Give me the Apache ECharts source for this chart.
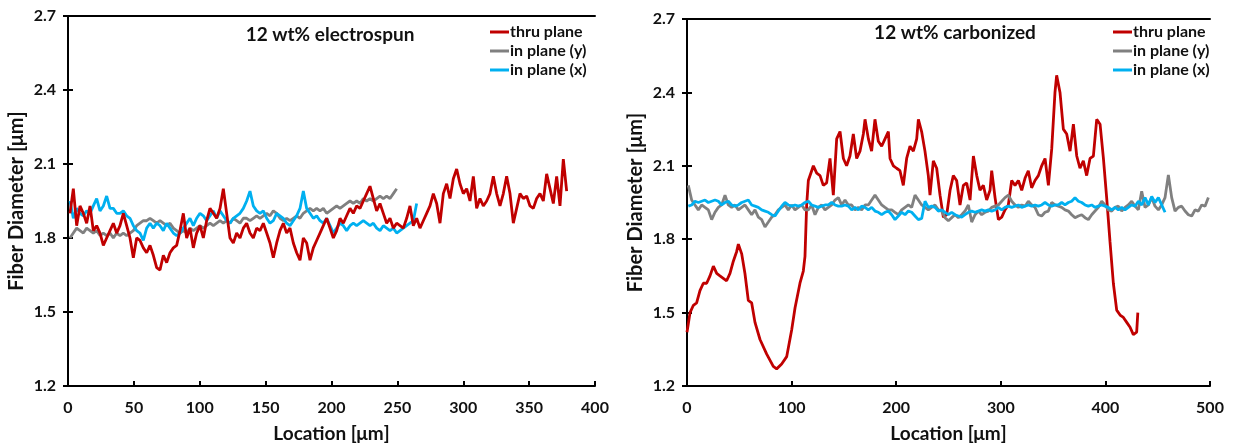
<!DOCTYPE html>
<html><head><meta charset="utf-8">
<script src="https://cdn.jsdelivr.net/npm/echarts@6/dist/echarts.min.js"></script>
<style>html,body{margin:0;padding:0;background:#fff}#c{width:1234px;height:448px}</style>
</head><body><div id="c"></div>
<script>
// ---------- Left panel: 12 wt% electrospun (sampled every ~2.53 µm from 1.52 µm) ----------
const L_START = 1.52, L_STEP = 2.53;
const leftThru = [1.90,2.00,1.85,1.93,1.90,1.86,1.93,1.83,1.85,1.82,1.77,1.80,1.83,1.86,1.82,1.85,1.90,1.85,1.80,1.72,
1.80,1.79,1.76,1.74,1.77,1.73,1.68,1.67,1.73,1.70,1.74,1.76,1.77,1.83,1.90,1.80,1.84,1.76,1.82,1.85,
1.80,1.87,1.92,1.90,1.88,1.92,2.00,1.90,1.80,1.78,1.82,1.80,1.84,1.86,1.82,1.80,1.84,1.83,1.86,1.82,
1.78,1.72,1.78,1.83,1.86,1.82,1.84,1.78,1.74,1.71,1.80,1.78,1.71,1.76,1.79,1.82,1.85,1.88,1.84,1.80,
1.83,1.88,1.86,1.89,1.92,1.90,1.93,1.92,1.95,1.98,2.01,1.96,1.91,1.94,1.90,1.86,1.88,1.84,1.86,1.85,
1.84,1.88,1.93,1.85,1.88,1.84,1.87,1.90,1.93,1.98,1.94,1.86,1.98,2.02,1.96,2.04,2.08,2.02,1.98,2.00,
1.95,2.05,1.92,1.96,1.93,1.95,1.98,2.05,1.98,1.93,1.98,2.05,1.98,1.86,1.92,1.98,1.96,1.97,1.93,1.92,
1.96,1.98,1.95,2.06,2.00,1.94,2.05,1.93,2.12,1.99];
const leftInY = [1.80,1.82,1.84,1.83,1.82,1.84,1.83,1.82,1.83,1.81,1.82,1.81,1.82,1.80,1.82,1.81,1.82,1.81,1.82,1.83,
1.85,1.86,1.87,1.87,1.88,1.87,1.86,1.87,1.86,1.85,1.86,1.84,1.83,1.82,1.83,1.82,1.84,1.83,1.84,1.85,
1.84,1.85,1.86,1.85,1.86,1.87,1.86,1.87,1.86,1.88,1.87,1.86,1.88,1.88,1.87,1.88,1.89,1.88,1.89,1.90,
1.89,1.91,1.90,1.88,1.87,1.88,1.87,1.88,1.89,1.88,1.90,1.91,1.92,1.91,1.92,1.91,1.92,1.90,1.91,1.92,
1.93,1.92,1.93,1.94,1.95,1.94,1.95,1.94,1.96,1.95,1.96,1.95,1.96,1.97,1.96,1.97,1.96,1.98,2.00];
const leftInX = [1.95,1.88,1.92,1.90,1.89,1.91,1.90,1.93,1.96,1.91,1.93,1.97,1.92,1.92,1.90,1.90,1.91,1.89,1.88,1.85,
1.83,1.82,1.79,1.84,1.86,1.84,1.86,1.85,1.83,1.86,1.84,1.82,1.81,1.82,1.84,1.86,1.88,1.85,1.88,1.90,
1.89,1.87,1.89,1.91,1.88,1.91,1.89,1.87,1.86,1.88,1.89,1.90,1.92,1.95,1.99,1.93,1.91,1.90,1.91,1.88,
1.86,1.87,1.90,1.89,1.88,1.86,1.85,1.87,1.89,1.92,1.99,1.92,1.90,1.88,1.89,1.87,1.86,1.88,1.85,1.82,
1.84,1.86,1.85,1.83,1.85,1.86,1.85,1.86,1.87,1.86,1.85,1.86,1.84,1.83,1.85,1.84,1.83,1.84,1.82,1.83,
1.84,1.85,1.86,1.87,1.94];

// ---------- Right panel: 12 wt% carbonized ----------
const rightThruX = [0,2.9,6.1,9.2,12.4,15.6,18.8,22.0,25.2,28.4,31.5,34.7,37.9,41.1,44.3,47.5,49.1,52.3,55.4,58.6,
61.8,65.0,69.8,76.2,82.5,85.7,90.5,95.3,100.1,103.3,108.0,111.2,112.8,114.4,116.0,119.2,120.8,124.0,127.2,130.3,
133.5,136.7,139.9,143.1,146.3,149.5,152.6,155.8,159.0,162.2,165.4,168.6,170.2,173.4,176.5,179.7,182.9,186.1,189.3,192.5,
194.1,197.3,200.4,203.6,206.8,210.0,213.2,216.4,219.6,221.2,224.3,227.5,230.7,232.3,235.5,238.7,241.9,245.1,248.3,251.5,
254.6,257.8,261.0,264.2,267.4,270.6,273.8,277.0,280.1,283.3,286.5,289.7,291.3,294.5,297.7,300.9,304.0,307.2,310.4,313.6,
316.8,320.0,323.2,326.3,329.5,332.7,335.9,339.1,342.3,345.5,348.7,351.8,353.4,356.6,359.8,363.0,366.2,369.4,372.6,375.7,
378.9,382.1,385.3,388.5,391.7,394.9,398.1,401.2,404.4,407.6,410.8,414.0,417.2,420.4,423.6,426.7,429.9,431.0];
const rightThruY = [1.42,1.50,1.53,1.54,1.59,1.62,1.62,1.65,1.69,1.66,1.65,1.64,1.63,1.66,1.71,1.75,1.78,1.74,1.66,1.55,
1.54,1.46,1.39,1.33,1.28,1.27,1.29,1.32,1.43,1.52,1.62,1.67,1.73,1.94,2.04,2.08,2.10,2.07,2.06,2.02,
2.03,2.13,1.98,2.21,2.24,2.13,2.10,2.14,2.23,2.13,2.16,2.23,2.29,2.21,2.16,2.29,2.20,2.18,2.21,2.24,
2.13,2.10,2.09,2.08,2.02,2.13,2.18,2.16,2.21,2.29,2.24,2.16,2.06,1.98,2.12,2.09,1.98,1.89,1.90,2.00,
2.06,2.04,1.94,2.02,2.03,1.96,2.14,2.06,2.00,2.02,1.96,2.00,2.08,1.97,1.88,1.89,1.92,1.94,2.04,2.02,
2.04,2.00,2.05,2.08,2.01,2.04,2.06,2.10,2.13,2.02,2.17,2.40,2.47,2.40,2.25,2.23,2.16,2.27,2.14,2.09,
2.12,2.06,2.13,2.14,2.29,2.27,2.13,1.97,1.79,1.62,1.51,1.49,1.48,1.46,1.44,1.41,1.42,1.50];
// in-plane series sampled every ~3.19 µm from 1.27 µm
const R_START = 1.27, R_STEP = 3.187;
const rightInY = [2.02,1.96,1.94,1.92,1.94,1.93,1.92,1.88,1.91,1.93,1.94,1.98,1.94,1.93,1.94,1.92,1.93,1.94,1.92,1.90,
1.92,1.89,1.88,1.85,1.87,1.89,1.90,1.92,1.93,1.94,1.92,1.94,1.92,1.93,1.94,1.92,1.92,1.94,1.90,1.93,
1.94,1.92,1.93,1.94,1.96,1.97,1.94,1.96,1.94,1.94,1.92,1.93,1.92,1.94,1.94,1.96,1.98,1.96,1.94,1.93,
1.92,1.92,1.91,1.90,1.92,1.93,1.94,1.93,1.98,1.96,1.94,1.93,1.92,1.93,1.94,1.92,
1.915,1.888,1.875,1.888,1.90,1.888,1.90,1.915,1.94,1.87,1.90,1.915,1.90,1.91,1.915,1.93,1.935,1.94,1.955,1.97,
1.98,1.955,1.94,1.93,1.94,1.935,1.955,1.94,1.93,1.90,1.895,1.91,1.915,1.95,1.94,1.935,1.93,1.92,1.915,1.90,
1.888,1.895,1.90,1.888,1.88,1.90,1.915,1.93,1.955,1.94,1.92,1.915,1.93,1.935,1.915,1.93,1.94,1.955,1.935,1.92,
1.996,1.93,1.94,1.97,1.935,1.92,1.94,1.97,2.063,1.97,1.915,1.93,1.935,1.915,1.90,1.895,1.92,1.915,1.94,1.935,1.97];
const rightInX = [1.935,1.94,1.955,1.95,1.955,1.96,1.95,1.955,1.96,1.955,1.94,1.95,1.955,1.94,1.935,1.94,1.95,1.955,1.96,1.94,
1.935,1.93,1.92,1.915,1.91,1.90,1.895,1.915,1.935,1.95,1.94,1.935,1.94,1.935,1.94,1.95,1.955,1.94,1.935,1.93,
1.935,1.94,1.94,1.95,1.94,1.935,1.935,1.94,1.935,1.92,1.93,1.92,1.935,1.93,1.92,1.93,1.915,1.91,1.90,1.91,
1.915,1.90,1.88,1.895,1.91,1.90,1.915,1.91,1.895,1.88,1.885,1.955,1.93,1.935,1.93,1.915,
1.92,1.91,1.90,1.91,1.90,1.895,1.89,1.90,1.91,1.915,1.91,1.915,1.92,1.915,1.92,1.915,1.92,1.93,1.92,1.93,
1.935,1.93,1.935,1.94,1.93,1.935,1.94,1.935,1.94,1.935,1.94,1.95,1.94,1.935,1.94,1.94,1.95,1.94,1.95,1.955,
1.97,1.955,1.95,1.94,1.935,1.94,1.93,1.935,1.94,1.935,1.93,1.92,1.93,1.92,1.93,1.92,1.93,1.94,1.935,1.955,
1.94,1.97,1.94,1.975,1.95,1.97,1.94,1.91];

const SERIES_NAMES = ['thru plane', 'in plane (y)', 'in plane (x)'];
const COLORS = ['#C00000', '#808080', '#00B0F0'];
const TITLES = ['12 wt% electrospun', '12 wt% carbonized'];
const X_NAME = 'Location [μm]', Y_NAME = 'Fiber Diameter [μm]';

function sampled(start, step, ys) { return ys.map((y, i) => [+(start + step * i).toFixed(2), y]); }
function paired(xs, ys) { return xs.map((x, i) => [x, ys[i]]); }

const FONT = 'Lato, "Open Sans", sans-serif';
const lbl = { color: '#111', fontWeight: 'bold', fontSize: 16, fontFamily: FONT };
const axLine = { show: true, lineStyle: { color: '#000', width: 2 } };

function xAxes(gi, max, interval) {
  return [
    { gridIndex: gi, type: 'value', position: 'bottom', min: 0, max: max, interval: interval,
      axisLine: axLine, axisTick: { inside: true, length: 5, lineStyle: { color: '#000', width: 2 } },
      axisLabel: Object.assign({ margin: 14 }, lbl), splitLine: { show: false },
      name: X_NAME, nameLocation: 'middle', nameGap: 38,
      nameTextStyle: { color: '#111', fontWeight: 'bold', fontSize: 19, fontFamily: FONT } },
    { gridIndex: gi, type: 'value', position: 'top', min: 0, max: max, interval: interval,
      axisLine: axLine, axisTick: { show: false }, axisLabel: { show: false }, splitLine: { show: false } }
  ];
}
function yAxes(gi) {
  return [
    { gridIndex: gi, type: 'value', position: 'left', min: 1.2, max: 2.7, interval: 0.3,
      axisLine: axLine, axisTick: { inside: true, length: 5, lineStyle: { color: '#000', width: 2 } },
      axisLabel: Object.assign({ margin: 12, formatter: v => v.toFixed(1) }, lbl), splitLine: { show: false },
      name: Y_NAME, nameLocation: 'middle', nameGap: 41,
      nameTextStyle: { color: '#111', fontWeight: 'bold', fontSize: 20, fontFamily: FONT } },
    { gridIndex: gi, type: 'value', position: 'right', min: 1.2, max: 2.7, interval: 0.3,
      axisLine: axLine, axisTick: { inside: true, length: 5, lineStyle: { color: '#000', width: 2 } },
      axisLabel: { show: false }, splitLine: { show: false } }
  ];
}
function line(name, color, xi, yi, data) {
  return { name: name, type: 'line', xAxisIndex: xi, yAxisIndex: yi, data: data, showSymbol: false,
    symbol: 'none', color: color, lineStyle: { color: color, width: 2.8 }, animation: false, z: 3 };
}
function legend(left, top) {
  return { orient: 'vertical', left: left, top: top, itemWidth: 19, itemHeight: 3, itemGap: 3,
    icon: 'rect', selectedMode: false,
    data: SERIES_NAMES.map((n, i) => ({ name: n, itemStyle: { color: COLORS[i] } })),
    textStyle: { color: '#111', fontWeight: 'bold', fontSize: 16, fontFamily: FONT, padding: [0, 0, 0, -4] } };
}

const chart = echarts.init(document.getElementById('c'), null, { renderer: 'canvas' });
chart.setOption({
  backgroundColor: '#fff',
  animation: false,
  grid: [
    { left: 68, top: 16, width: 527, height: 370 },
    { left: 687, top: 19, width: 523, height: 370 }
  ],
  xAxis: [].concat(xAxes(0, 400, 50), xAxes(1, 500, 100)),
  yAxis: [].concat(yAxes(0), yAxes(1)),
  legend: [legend(485, 19), legend(1108, 19)],
  graphic: [
    { type: 'text', x: 330, y: 35, style: { text: TITLES[0], textAlign: 'center', textVerticalAlign: 'middle',
      fill: '#111', font: 'bold 19px ' + FONT } },
    { type: 'text', x: 955, y: 33, style: { text: TITLES[1], textAlign: 'center', textVerticalAlign: 'middle',
      fill: '#111', font: 'bold 19px ' + FONT } }
  ],
  series: [
    line(SERIES_NAMES[1], COLORS[1], 0, 0, sampled(L_START, L_STEP, leftInY)),
    line(SERIES_NAMES[2], COLORS[2], 0, 0, sampled(L_START, L_STEP, leftInX)),
    line(SERIES_NAMES[0], COLORS[0], 0, 0, sampled(L_START, L_STEP, leftThru)),
    line(SERIES_NAMES[0], COLORS[0], 2, 2, paired(rightThruX, rightThruY)),
    line(SERIES_NAMES[1], COLORS[1], 2, 2, sampled(R_START, R_STEP, rightInY)),
    line(SERIES_NAMES[2], COLORS[2], 2, 2, sampled(R_START, R_STEP, rightInX))
  ]
});
</script></body></html>
